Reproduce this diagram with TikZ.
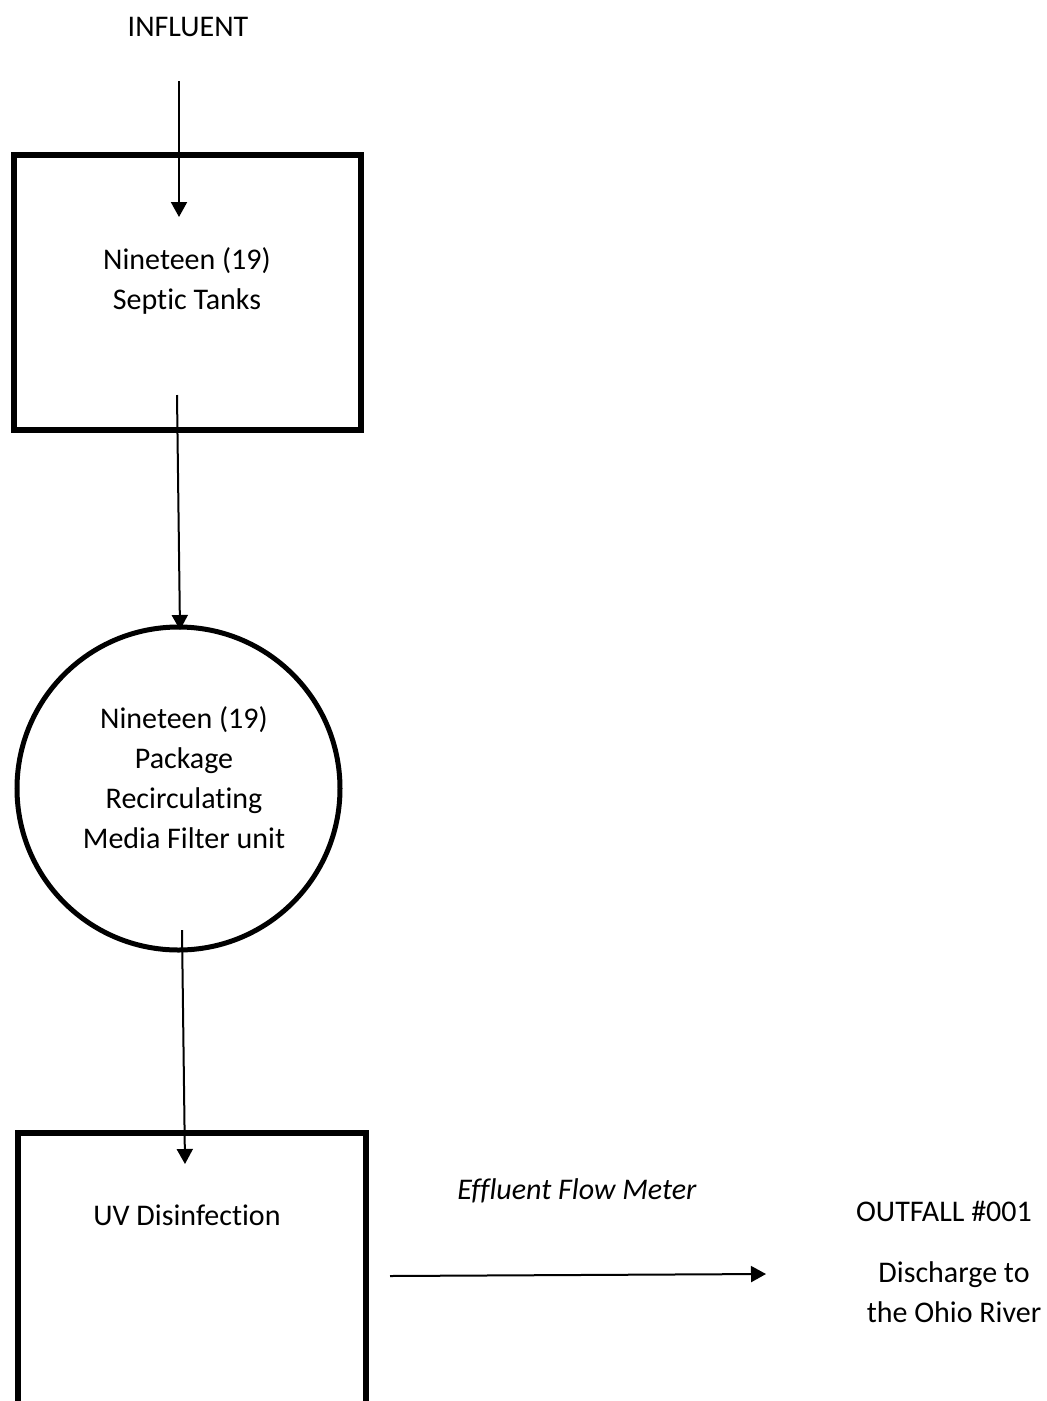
\documentclass[tikz,border=0pt]{standalone}
\usepackage{fontspec}
\setmainfont{Carlito}[Ligatures=NoCommon]
\usetikzlibrary{arrows.meta}
\begin{document}
\begin{tikzpicture}[x=1pt,y=-1pt,
  lbl/.style={inner sep=0pt,align=center,font=\fontsize{30}{40}\selectfont},
  boxline/.style={draw,line width=6pt},
  flow/.style={line width=2pt,-{Triangle[width=16pt,length=15pt]}}]
\useasboundingbox (0,0) rectangle (1047,1401);
\clip (0,0) rectangle (1047,1401);
% shapes
\draw[boxline] (14,155) rectangle (361,430);
\draw[line width=5pt] (178.5,788.5) circle (161.5);
\draw[boxline] (18,1133) rectangle (366,1420);
% labels
\node[lbl] (infl) at (188,27) {INFLUENT};
\node[lbl] (septic) at (187,281) {Nineteen (19)\\Septic Tanks};
\node[lbl] (filter) at (184,777.5) {Nineteen (19)\\Package\\Recirculating\\Media Filter unit};
\node[lbl] (uv) at (187,1215) {UV Disinfection};
\node[lbl,font=\fontsize{30}{40}\selectfont\itshape] (meter) at (577,1191) {Effluent Flow Meter};
\node[lbl] (outfall) at (944,1211) {OUTFALL \#001};
\node[lbl] (river) at (954,1292.5) {Discharge to\\the Ohio River};
% connector ends
\coordinate (a1) at (179,81);
\coordinate (a2) at (179,217);
\coordinate (b1) at (177,395);
\coordinate (b2) at (180,630);
\coordinate (c1) at (182,930);
\coordinate (c2) at (185,1164);
\coordinate (d1) at (390,1276);
\coordinate (d2) at (766,1274);
\draw[flow] (a1) -- (a2);
\draw[flow] (b1) -- (b2);
\draw[flow] (c1) -- (c2);
\draw[flow] (d1) -- (d2);
\end{tikzpicture}
\end{document}
